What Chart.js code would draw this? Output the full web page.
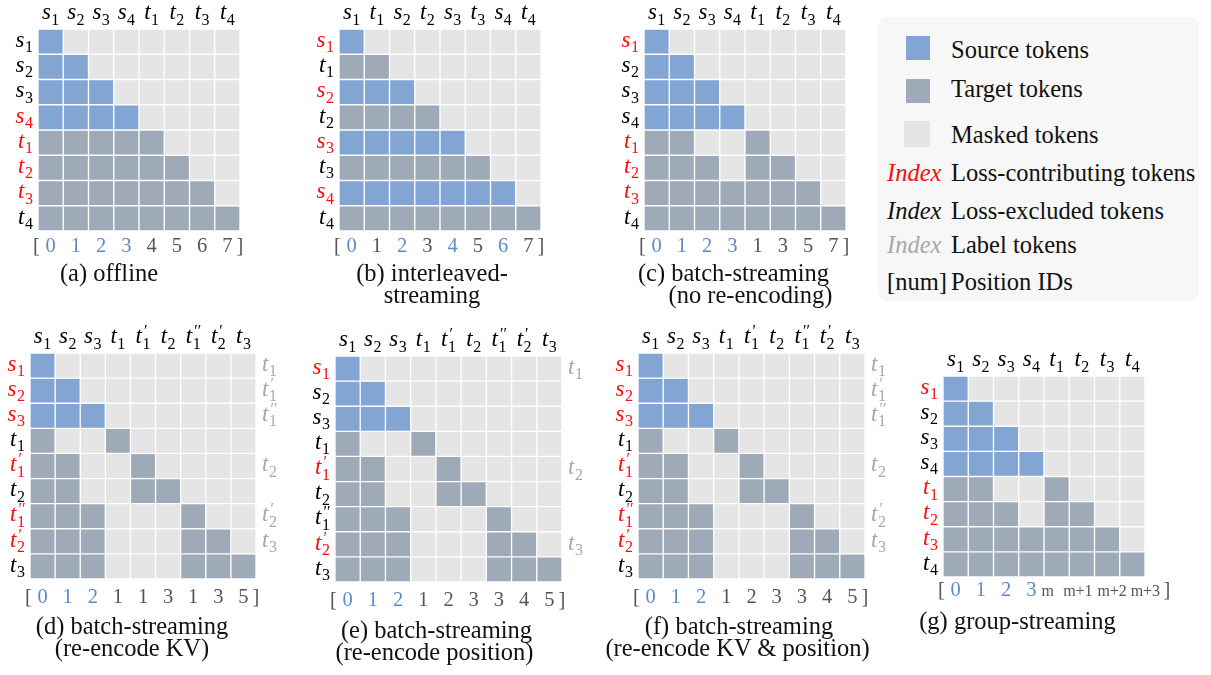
<!DOCTYPE html>
<html>
<head>
<meta charset="utf-8">
<script src="https://cdn.jsdelivr.net/npm/chart.js@4.4.0/dist/chart.umd.min.js"></script>
<style>
  html, body { margin: 0; padding: 0; background: #fff; }
  body { width: 1211px; height: 675px; position: relative; overflow: hidden; font-family: 'Liberation Serif'; }
  canvas { position: absolute; }
  #legend { position: absolute; left: 878px; top: 17px; width: 321px; height: 284px; background: #f7f7f7; border-radius: 9px; font-family: 'Liberation Serif'; }
  .lg { position: absolute; font-family: 'Liberation Serif'; font-size: 24.5px; line-height: 24.5px; white-space: nowrap; color: #111; }
  .sw { position: absolute; }
  .layer { position: absolute; left: 0; top: 0; width: 0; height: 0; overflow: visible; pointer-events: none; }
  .txt { position: absolute; white-space: nowrap; font-family: 'Liberation Serif'; }
  .tok i { font-style: italic; }
  .ix { position: relative; display: inline-block; margin-left: 0.5px; }
  .sb { position: relative; top: 5.3px; font-size: 16px; font-style: normal; }
  .pr { position: absolute; left: 1.5px; top: -1px; font-size: 16px; line-height: 16px; font-style: normal; }
</style>
</head>
<body>
<div id="legend"></div>
<script>
// ---- (a) offline ----
const COLS_A = ["s1", "s2", "s3", "s4", "t1", "t2", "t3", "t4"];
const ROWS_A = ["s1", "s2", "s3", "s4", "t1", "t2", "t3", "t4"];
const LOSS_A = [0, 0, 0, 1, 1, 1, 1, 0];
const MASK_A = ["10000000", "11000000", "11100000", "11110000", "11111000", "11111100", "11111110", "11111111"];
const POS_A = ["0", "1", "2", "3", "4", "5", "6", "7"];
const CAPTION_A = ["(a) offline"];

// ---- (b) interleaved-streaming ----
const COLS_B = ["s1", "t1", "s2", "t2", "s3", "t3", "s4", "t4"];
const ROWS_B = ["s1", "t1", "s2", "t2", "s3", "t3", "s4", "t4"];
const LOSS_B = [1, 0, 1, 0, 1, 0, 1, 0];
const MASK_B = ["10000000", "11000000", "11100000", "11110000", "11111000", "11111100", "11111110", "11111111"];
const POS_B = ["0", "1", "2", "3", "4", "5", "6", "7"];
const CAPTION_B = ["(b) interleaved-", "streaming"];

// ---- (c) batch-streaming, no re-encoding ----
const COLS_C = ["s1", "s2", "s3", "s4", "t1", "t2", "t3", "t4"];
const ROWS_C = ["s1", "s2", "s3", "s4", "t1", "t2", "t3", "t4"];
const LOSS_C = [1, 0, 0, 0, 1, 1, 1, 0];
const MASK_C = ["10000000", "11000000", "11100000", "11110000", "11001000", "11101100", "11111110", "11111111"];
const POS_C = ["0", "1", "2", "3", "1", "3", "5", "7"];
const CAPTION_C = ["(c) batch-streaming", "(no re-encoding)"];

// ---- (d) batch-streaming, re-encode KV ----
const COLS_D = ["s1", "s2", "s3", "t1", "t1'", "t2", "t1''", "t2'", "t3"];
const ROWS_D = ["s1", "s2", "s3", "t1", "t1'", "t2", "t1''", "t2'", "t3"];
const LOSS_D = [1, 1, 1, 0, 1, 0, 1, 1, 0];
const MASK_D = ["100000000", "110000000", "111000000", "100100000", "110010000", "110011000", "111000100", "111000110", "111000111"];
const POS_D = ["0", "1", "2", "1", "1", "3", "1", "3", "5"];
const LABELS_D = ["t1", "t1'", "t1''", "", "t2", "", "t2'", "t3", ""];
const CAPTION_D = ["(d) batch-streaming", "(re-encode KV)"];

// ---- (e) batch-streaming, re-encode position ----
const COLS_E = ["s1", "s2", "s3", "t1", "t1'", "t2", "t1''", "t2'", "t3"];
const ROWS_E = ["s1", "s2", "s3", "t1", "t1'", "t2", "t1''", "t2'", "t3"];
const LOSS_E = [1, 0, 0, 0, 1, 0, 0, 1, 0];
const MASK_E = ["100000000", "110000000", "111000000", "100100000", "110010000", "110011000", "111000100", "111000110", "111000111"];
const POS_E = ["0", "1", "2", "1", "2", "3", "3", "4", "5"];
const LABELS_E = ["t1", "", "", "", "t2", "", "", "t3", ""];
const CAPTION_E = ["(e) batch-streaming", "(re-encode position)"];

// ---- (f) batch-streaming, re-encode KV & position ----
const COLS_F = ["s1", "s2", "s3", "t1", "t1'", "t2", "t1''", "t2'", "t3"];
const ROWS_F = ["s1", "s2", "s3", "t1", "t1'", "t2", "t1''", "t2'", "t3"];
const LOSS_F = [1, 1, 1, 0, 1, 0, 1, 1, 0];
const MASK_F = ["100000000", "110000000", "111000000", "100100000", "110010000", "110011000", "111000100", "111000110", "111000111"];
const POS_F = ["0", "1", "2", "1", "2", "3", "3", "4", "5"];
const LABELS_F = ["t1", "t1'", "t1''", "", "t2", "", "t2'", "t3", ""];
const CAPTION_F = ["(f) batch-streaming", "(re-encode KV & position)"];

// ---- (g) group-streaming ----
const COLS_G = ["s1", "s2", "s3", "s4", "t1", "t2", "t3", "t4"];
const ROWS_G = ["s1", "s2", "s3", "s4", "t1", "t2", "t3", "t4"];
const LOSS_G = [1, 0, 0, 0, 1, 1, 1, 0];
const MASK_G = ["10000000", "11000000", "11100000", "11110000", "11001000", "11101100", "11111110", "11111111"];
const POS_G = ["0", "1", "2", "3", "m", "m+1", "m+2", "m+3"];
const CAPTION_G = ["(g) group-streaming"];

// ---- legend entries ----
const LEGEND_SWATCHES = ["Source tokens", "Target tokens", "Masked tokens"];
const LEGEND_KEYS = ["Index", "Index", "Index", "[num]"];
const LEGEND_TEXTS = ["Loss-contributing tokens", "Loss-excluded tokens", "Label tokens", "Position IDs"];

// ---- colours ----
const SOURCE = "#82a5d4";
const TARGET = "#9eaab8";
const MASKED = "#e5e5e5";
const RED = "#f70f0f";
const INK = "#000000";
const LABEL_GREY = "#a8a8a8";
const POS_BLUE = "#5a8bd0";
const POS_GREY = "#555555";

// page placement of each panel: canvas box, grid rectangle, caption anchors
const LAYOUT = [
  { box: [0, 0, 262, 310],   grid: [38, 29, 202, 202],  posDy: 21, cap: [[109, 282]] },
  { box: [262, 0, 300, 310], grid: [339, 29, 202, 202], posDy: 21, cap: [[432, 282], [432, 304]] },
  { box: [562, 0, 310, 310], grid: [644, 29, 202, 202], posDy: 21, cap: [[733.5, 282], [750.5, 304]] },
  { box: [0, 310, 300, 365], grid: [30, 353, 226, 226], posDy: 24, cap: [[132, 635], [132, 657]] },
  { box: [300, 310, 300, 365], grid: [335, 356, 227, 226], posDy: 24, cap: [[436.5, 639], [434.5, 661]] },
  { box: [600, 310, 300, 365], grid: [638, 353, 227, 226], posDy: 24, cap: [[739, 635], [737.5, 657]] },
  { box: [900, 310, 311, 365], grid: [943, 376, 202, 201], posDy: 19, cap: [[1017.5, 630]],
    posNudge: [0, 0, 0, 0, -9, -4, 5, 13], closeDx: 22 }
];

const PANELS = [
  { cols: COLS_A, rows: ROWS_A, loss: LOSS_A, mask: MASK_A, pos: POS_A, side: null, caption: CAPTION_A },
  { cols: COLS_B, rows: ROWS_B, loss: LOSS_B, mask: MASK_B, pos: POS_B, side: null, caption: CAPTION_B },
  { cols: COLS_C, rows: ROWS_C, loss: LOSS_C, mask: MASK_C, pos: POS_C, side: null, caption: CAPTION_C },
  { cols: COLS_D, rows: ROWS_D, loss: LOSS_D, mask: MASK_D, pos: POS_D, side: LABELS_D, caption: CAPTION_D },
  { cols: COLS_E, rows: ROWS_E, loss: LOSS_E, mask: MASK_E, pos: POS_E, side: LABELS_E, caption: CAPTION_E },
  { cols: COLS_F, rows: ROWS_F, loss: LOSS_F, mask: MASK_F, pos: POS_F, side: LABELS_F, caption: CAPTION_F },
  { cols: COLS_G, rows: ROWS_G, loss: LOSS_G, mask: MASK_G, pos: POS_G, side: null, caption: CAPTION_G }
];

const MATH_SIZE = 23;
const ASC = 0.8375; // baseline offset (in em) of a Liberation Serif line box whose line-height equals the font size

// ---- text helpers: absolutely placed text, anchored on its baseline ----
function place(el, x, baseY, size, align, color) {
  el.style.left = x + "px";
  el.style.top = (baseY - ASC * size) + "px";
  el.style.fontSize = size + "px";
  el.style.lineHeight = size + "px";
  if (align === "center") el.style.transform = "translateX(-50%)";
  else if (align === "right") el.style.transform = "translateX(-100%)";
  el.style.color = color;
  return el;
}
function textEl(str, x, baseY, size, align, color) {
  const el = document.createElement("div");
  el.className = "txt";
  el.textContent = str;
  return place(el, x, baseY, size, align, color);
}
// token name such as s1, t1' or t1'': italic letter, upright subscript index, primes above it
function tokenEl(label, x, baseY, align, color) {
  const el = document.createElement("div");
  el.className = "txt tok";
  const b = document.createElement("i");
  b.textContent = label[0];
  el.appendChild(b);
  const ix = document.createElement("span");
  ix.className = "ix";
  const sb = document.createElement("span");
  sb.className = "sb";
  sb.textContent = label.slice(1).replace(/'/g, "");
  ix.appendChild(sb);
  const n = (label.match(/'/g) || []).length;
  if (n) {
    const pr = document.createElement("span");
    pr.className = "pr";
    pr.textContent = "\u2032".repeat(n);
    ix.appendChild(pr);
  }
  el.appendChild(ix);
  return place(el, x, baseY, MATH_SIZE, align, color);
}

// Plugin: token names around the grid, position ids below it and the caption,
// all placed from the chart's own scales.
const maskLabels = {
  id: "maskLabels",
  afterDraw(chart, args, o) {
    const { chartArea: ca, scales: { x, y } } = chart;
    const p = o.panel, L = o.layout, layer = o.layer;
    const ox = L.box[0], oy = L.box[1];
    layer.replaceChildren();
    p.cols.forEach((lab, j) => layer.appendChild(tokenEl(lab, ox + x.getPixelForValue(j), oy + ca.top - 9.5, "center", INK)));
    p.rows.forEach((lab, i) => layer.appendChild(tokenEl(lab, ox + ca.left - 5, oy + y.getPixelForValue(i + 0.5) + 5.5, "right", p.loss[i] ? RED : INK)));
    if (p.side) {
      p.side.forEach((lab, i) => {
        if (lab) layer.appendChild(tokenEl(lab, ox + ca.right + 6, oy + y.getPixelForValue(i + 0.5) + 5.5, "left", LABEL_GREY));
      });
    }
    const py = oy + ca.bottom + L.posDy;
    p.pos.forEach((lab, j) => {
      const isNum = /^\d+$/.test(lab);
      const nudge = L.posNudge ? L.posNudge[j] : 0;
      layer.appendChild(textEl(lab, ox + x.getPixelForValue(j) + nudge, py, isNum ? 20.5 : 16, "center",
        p.cols[j][0] === "s" ? POS_BLUE : POS_GREY));
    });
    layer.appendChild(textEl("[", ox + ca.left - 1.5, py, 20.5, "center", POS_GREY));
    layer.appendChild(textEl("]", ox + ca.right + (L.closeDx || 0), py, 20.5, "center", POS_GREY));
    p.caption.forEach((line, k) => layer.appendChild(textEl(line, L.cap[k][0], L.cap[k][1], 24.5, "center", "#111")));
  }
};

PANELS.forEach((p, idx) => {
  const L = LAYOUT[idx];
  const [bx, by, bw, bh] = L.box;
  const [gx, gy, gw, gh] = L.grid;
  const cv = document.createElement("canvas");
  cv.width = bw; cv.height = bh;
  cv.style.left = bx + "px"; cv.style.top = by + "px";
  cv.style.width = bw + "px"; cv.style.height = bh + "px";
  document.body.appendChild(cv);
  const layer = document.createElement("div");
  layer.className = "layer";
  document.body.appendChild(layer);

  // one floating-bar dataset per row; each bar spans a single row band in one column
  const datasets = p.rows.map((r, i) => ({
    data: p.cols.map(() => [i, i + 1]),
    backgroundColor: p.mask[i].split("").map(ch => ch === "1" ? (r[0] === "s" ? SOURCE : TARGET) : MASKED),
    borderColor: "#ffffff",
    borderWidth: 1,
    borderSkipped: false,
    barPercentage: 1,
    categoryPercentage: 1,
    grouped: false
  }));

  new Chart(cv, {
    type: "bar",
    data: { labels: p.cols, datasets },
    options: {
      responsive: false,
      animation: false,
      devicePixelRatio: 1,
      layout: { padding: { left: gx - bx, top: gy - by, right: bx + bw - gx - gw, bottom: by + bh - gy - gh } },
      scales: {
        x: { display: false, offset: true },
        y: { display: false, type: "linear", min: 0, max: p.rows.length, reverse: true }
      },
      plugins: { legend: { display: false }, tooltip: { enabled: false }, maskLabels: { panel: p, layout: L, layer } }
    },
    plugins: [maskLabels]
  });
});

// ---- legend box ----
(function buildLegend() {
  const box = document.getElementById("legend");
  const ox = 878, oy = 17;
  const swatchColors = [SOURCE, TARGET, MASKED];
  const swatchRects = [[906, 36, 24, 24], [906, 79, 24, 24], [904, 121, 26, 26]];
  const swatchBase = [58, 97, 143];
  LEGEND_SWATCHES.forEach((txt, i) => {
    const [sx, sy, sw, sh] = swatchRects[i];
    const s = document.createElement("div");
    s.className = "sw";
    s.style.cssText = `left:${sx - ox}px;top:${sy - oy}px;width:${sw}px;height:${sh}px;background:${swatchColors[i]}`;
    box.appendChild(s);
    const t = document.createElement("div");
    t.className = "lg";
    t.style.left = (951 - ox) + "px";
    t.style.top = (swatchBase[i] - 20.5 - oy) + "px";
    t.textContent = txt;
    box.appendChild(t);
  });
  const keyColors = [RED, "#111", LABEL_GREY, "#111"];
  const keyItalic = [true, true, true, false];
  const textBase = [181, 219, 253, 290];
  LEGEND_TEXTS.forEach((txt, i) => {
    const k = document.createElement("div");
    k.className = "lg";
    k.style.left = (887 - ox) + "px";
    k.style.top = (textBase[i] - 20.5 - oy) + "px";
    k.style.color = keyColors[i];
    if (keyItalic[i]) k.style.fontStyle = "italic";
    k.textContent = LEGEND_KEYS[i];
    box.appendChild(k);
    const t = document.createElement("div");
    t.className = "lg";
    t.style.left = (951 - ox) + "px";
    t.style.top = (textBase[i] - 20.5 - oy) + "px";
    t.textContent = txt;
    box.appendChild(t);
  });
})();
</script>
</body>
</html>
